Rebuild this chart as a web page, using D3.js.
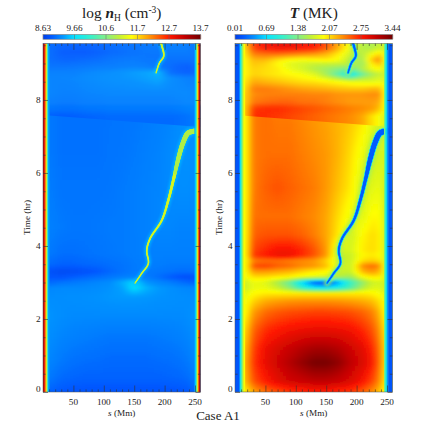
<!DOCTYPE html>
<html><head><meta charset="utf-8">
<script src="https://cdn.jsdelivr.net/npm/d3@7/dist/d3.min.js"></script>
<style>html,body{margin:0;padding:0;background:#fff}svg{display:block}text{font-family:"Liberation Serif",serif;fill:#222}</style>
</head><body><div id="c"></div>
<script>
// ---------- data ----------
const colourStops = [0,.05,.12,.2,.3,.4,.48,.56,.66,.8,.9,1];
const colourRamp = ["#0040e8","#0058ff","#0090ff","#00e4ff","#30f0c8","#80ee80","#c0f030","#ffff00","#ffa000","#ff1800","#c00000","#700000"];
const nTicks = ["8.63","9.66","10.6","11.7","12.7","13.7"];
const tTicks = ["0.01","0.69","1.38","2.07","2.75","3.44"];

const sColsT = [16,30,50,70,90,110,130,150,170,190,210,225,238,246];
const sColsN = [10,30,50,70,90,110,130,150,170,190,210,225,238,250];

const tRowsTLow = [0,.3,.8,1.2,1.7,2.2,2.5,2.7,2.85,3.0,3.15,3.3,3.45,3.6,3.75,3.9,4.3,4.8,5.6,6.5,7.7];
const tempLow = [
[1.95,2.25,2.45,2.55,2.65,2.7,2.75,2.75,2.7,2.65,2.5,2.35,2.15,1.9],
[2.15,2.55,2.75,2.9,3.0,3.05,3.1,3.1,3.05,2.95,2.8,2.6,2.35,2.0],
[2.2,2.65,2.88,3.02,3.15,3.28,3.4,3.4,3.3,3.1,2.95,2.78,2.45,2.05],
[2.15,2.6,2.85,2.96,3.05,3.14,3.2,3.2,3.14,3.02,2.9,2.72,2.42,2.05],
[2.05,2.48,2.68,2.76,2.82,2.86,2.88,2.88,2.86,2.82,2.7,2.56,2.32,2.0],
[1.9,2.28,2.45,2.52,2.56,2.58,2.6,2.6,2.58,2.55,2.48,2.38,2.18,1.9],
[1.85,2.08,2.22,2.27,2.3,2.32,2.32,2.32,2.3,2.27,2.22,2.16,2.03,1.85],
[1.8,1.94,2.0,2.0,2.0,2.0,2.0,2.0,2.0,2.0,2.0,1.97,1.9,1.8],
[1.7,1.85,1.85,1.7,1.45,1.05,.8,.75,.9,1.2,1.6,1.78,1.8,1.7],
[1.7,1.85,1.8,1.55,1.25,.65,.2,.1,.45,1.05,1.45,1.7,1.75,1.7],
[1.85,2.05,2.05,2.0,1.95,1.85,1.8,1.75,1.6,1.5,1.9,2.0,2.0,1.75],
[1.85,2.3,2.3,2.25,2.2,2.1,2.0,1.95,1.7,1.7,2.2,2.3,2.2,1.75],
[1.85,2.55,2.6,2.5,2.45,2.35,2.3,2.15,1.75,1.7,2.35,2.45,2.35,1.75],
[1.85,2.4,2.45,2.45,2.4,2.35,2.3,2.1,1.7,1.7,2.05,2.1,2.05,1.7],
[1.9,2.65,2.75,2.85,2.85,2.7,2.55,2.3,1.7,1.7,1.95,2.0,1.95,1.7],
[1.9,2.6,2.7,2.8,2.8,2.7,2.55,2.3,1.75,1.75,2.0,2.05,2.0,1.7],
[1.9,2.5,2.55,2.55,2.55,2.5,2.4,2.25,2.0,1.7,1.95,2.05,2.0,1.7],
[1.9,2.45,2.45,2.45,2.45,2.4,2.35,2.25,2.05,1.85,1.8,1.95,1.95,1.7],
[1.9,2.4,2.5,2.55,2.5,2.45,2.4,2.3,2.15,2.0,1.7,1.8,1.85,1.7],
[1.9,2.4,2.45,2.45,2.45,2.4,2.35,2.3,2.2,2.05,1.85,1.65,1.75,1.75],
[1.9,2.4,2.45,2.4,2.4,2.35,2.3,2.25,2.2,2.15,2.05,1.9,1.75,1.7]];

const tRowsTUp = [7.2,7.55,7.75,7.95,8.15,8.3,8.5,8.7,8.85,9.0,9.1,9.25,9.4,9.55];
const tempUp = [
[2.1,2.7,2.7,2.65,2.6,2.55,2.5,2.45,2.4,2.35,2.25,2.05,1.9,1.75],
[2.1,2.7,2.7,2.65,2.6,2.55,2.5,2.45,2.4,2.35,2.25,2.05,1.9,1.75],
[2.1,2.65,2.7,2.7,2.65,2.6,2.55,2.5,2.45,2.4,2.35,2.3,2.15,1.85],
[2.1,2.42,2.47,2.5,2.5,2.45,2.45,2.4,2.35,2.3,2.3,2.3,2.25,1.9],
[2.1,2.36,2.4,2.4,2.4,2.4,2.38,2.38,2.33,2.32,2.32,2.35,2.35,1.9],
[2.05,2.42,2.42,2.38,2.33,2.28,2.25,2.22,2.18,2.15,2.15,2.2,2.2,1.9],
[2.0,2.25,2.2,2.15,2.1,2.05,2.03,1.98,1.92,1.85,1.82,1.8,1.85,1.8],
[1.95,2.1,2.05,2.0,1.95,1.9,1.8,1.55,1.2,.75,1.3,1.55,1.7,1.7],
[1.95,2.1,2.05,2.0,1.85,1.75,1.6,1.5,1.4,1.3,1.6,1.85,1.95,1.7],
[1.95,2.15,2.1,1.95,1.8,1.75,1.7,1.7,1.7,1.65,1.5,2.0,2.2,1.75],
[1.95,2.2,2.2,2.05,1.95,1.9,1.95,2.0,1.9,1.6,1.55,2.15,2.4,1.8],
[2.0,2.4,2.45,2.45,2.4,2.35,2.3,2.2,2.0,1.7,1.6,1.9,2.1,1.8],
[2.05,2.6,2.75,2.8,2.8,2.75,2.7,2.5,2.2,1.8,1.6,1.6,1.75,1.7],
[2.1,2.65,2.85,2.9,2.9,2.85,2.8,2.6,2.25,1.85,1.6,1.55,1.65,1.7]];

const tRowsNLow = [0,.4,.9,1.5,2.1,2.6,2.85,3.0,3.15,3.3,3.5,3.8,4.5,5.5,6.5,7.7];
const densLow = [
[8.95,8.88,8.85,8.85,8.85,8.85,8.85,8.85,8.85,8.85,8.85,8.86,8.88,8.95],
[9.1,9.0,8.97,8.95,8.95,8.95,8.95,8.95,8.95,8.95,8.97,8.98,9.02,9.1],
[9.18,9.1,9.05,9.03,9.02,9.0,9.0,9.0,9.0,9.02,9.03,9.06,9.1,9.18],
[9.22,9.17,9.14,9.12,9.1,9.08,9.08,9.08,9.08,9.1,9.12,9.14,9.17,9.22],
[9.26,9.22,9.2,9.2,9.2,9.2,9.2,9.2,9.2,9.2,9.2,9.2,9.22,9.26],
[9.22,9.22,9.23,9.24,9.25,9.27,9.28,9.28,9.27,9.25,9.24,9.23,9.22,9.22],
[9.18,9.2,9.2,9.2,9.22,9.25,9.32,9.62,9.4,9.28,9.24,9.2,9.18,9.18],
[9.0,9.06,9.1,9.14,9.18,9.22,9.38,9.6,9.26,9.18,9.12,9.05,9.0,8.95],
[8.88,8.85,8.92,8.98,9.03,9.08,9.12,9.15,9.12,9.02,8.9,8.84,8.8,8.82],
[8.82,8.76,8.78,8.82,8.88,8.98,9.05,9.1,9.1,9.08,9.05,9.02,9.02,9.05],
[9.0,8.95,8.95,8.98,9.0,9.03,9.06,9.1,9.12,9.12,9.1,9.1,9.1,9.1],
[9.1,9.03,9.03,9.05,9.07,9.09,9.1,9.12,9.14,9.14,9.14,9.14,9.14,9.14],
[9.14,9.1,9.08,9.08,9.09,9.1,9.1,9.12,9.15,9.18,9.18,9.16,9.16,9.16],
[9.12,9.07,9.07,9.07,9.07,9.08,9.1,9.12,9.15,9.17,9.2,9.22,9.22,9.2],
[9.1,9.05,9.05,9.05,9.05,9.07,9.08,9.1,9.13,9.16,9.2,9.24,9.25,9.22],
[9.1,9.05,9.05,9.05,9.05,9.06,9.07,9.08,9.1,9.13,9.16,9.2,9.24,9.24]];

const tRowsNUp = [7.2,7.55,7.75,8.2,8.6,8.75,8.9,9.1,9.3,9.55];
const densUp = [
[8.92,8.9,8.92,8.95,8.97,9.0,9.0,9.0,9.0,9.0,9.0,9.02,9.05,9.1],
[8.92,8.9,8.92,8.95,8.97,9.0,9.0,9.0,9.0,9.0,9.0,9.02,9.05,9.1],
[9.08,9.05,9.05,9.08,9.08,9.1,9.1,9.1,9.1,9.1,9.1,9.12,9.15,9.15],
[9.15,9.12,9.12,9.14,9.15,9.16,9.16,9.16,9.16,9.16,9.16,9.17,9.17,9.15],
[9.14,9.14,9.15,9.18,9.2,9.22,9.24,9.26,9.3,9.35,9.2,9.15,9.12,9.1],
[9.12,9.12,9.12,9.15,9.18,9.2,9.24,9.28,9.32,9.4,9.0,8.95,8.92,8.95],
[9.05,9.05,9.06,9.08,9.1,9.1,9.12,9.14,9.12,9.05,8.98,8.92,8.9,8.95],
[9.0,8.95,8.95,8.98,9.0,9.05,9.07,9.08,9.05,9.05,9.02,9.02,9.02,9.03],
[9.0,8.9,8.88,8.88,8.92,8.97,9.0,9.03,9.05,9.05,9.08,9.08,9.08,9.05],
[9.0,8.95,8.95,8.95,8.97,9.0,9.03,9.05,9.08,9.1,9.12,9.12,9.1,9.05]];

// strips along the two footpoints, [start of strip in Mm]
const wallSLeftT = [0,6.5,7.5,8.5,9.5,10.5,11.5,12.5,13.5,14.5];
const wallVLeftT = [.15,.3,.5,.72,.95,1.2,1.4,1.6,1.75,1.9];
const wallSRightT = [245,246,247,248,249,250,251,252,253];
const wallVRightT = [1.45,1.2,1.0,.8,.62,.48,.36,.25,.15];
const wallSLeftN = [0,1.4,2.4,3.4,4.4,5.4,6.4,7.4,8.4];
const wallVLeftN = [13.3,12.9,12.6,12.25,11.75,11.4,10.6,9.8,9.35];
const wallSRightN = [249,250.5,252,253,254,255,256,257,258];
const wallVRightN = [9.35,9.7,10.4,11.2,11.6,12.1,12.7,13.2,13.6];

// the sharp front crossing the loop at about 7.5 hr
const frontS = [0,259];
const frontT = [7.59,7.26];

// the condensation tracks
const trackS = [151.3,162.3,173.2,170.6,176,195.2,206,214.3,222.5,230.8,239,253.8];
const trackT = [2.98,3.25,3.52,3.88,4.2,4.7,5.25,5.8,6.39,6.85,7.1,7.15];
const track2S = [185.9,191.3,198.5,195.7,194];
const track2T = [8.74,9.01,9.2,9.47,9.56];
const widthT = [2.9,4.7,5.8,6.4,7.2,8.7,9.6];
const widthPx = [1.2,1.9,2.8,4.2,5,1.2,1.8];

const sTickMajor = [50,100,150,200,250];
const sTickMinor = d3.range(10,260,10).filter(d=>d%50);
const tTickMajor = [0,2,4,6,8];
const tTickMinor = d3.range(0.5,9.6,0.5).filter(d=>d%2);

// ---------- drawing ----------
const svg = d3.select("#c").append("svg").attr("width",436).attr("height",436);
const defs = svg.append("defs");
const blur = (id,sx,sy)=>defs.append("filter").attr("id",id)
  .attr("filterUnits","userSpaceOnUse").attr("x",0).attr("y",0).attr("width",436).attr("height",436)
  .append("feGaussianBlur").attr("stdDeviation",`${sx} ${sy}`);
blur("soft",2.4,.9); blur("h1",1.4,1.4); blur("h2",.6,.6); blur("edge",.35,0);

const ramp = d3.scaleLinear().domain(colourStops).range(colourRamp).interpolate(d3.interpolateRgb);

function panel(o){
  const x = d3.scaleLinear().domain([0,259]).range([o.x0,o.x0+157.5]);
  const y = d3.scaleLinear().domain([0,9.55]).range([392,43.4]);
  const frac = d3.scaleLinear().domain([o.vmin,o.vmax]).range([0,1]).clamp(true);
  const col = v => ramp(frac(v));
  const g = svg.append("g");
  const cid = "clip"+o.key;
  defs.append("clipPath").attr("id",cid).append("rect")
    .attr("x",x(0)).attr("y",y(9.55)).attr("width",x(259)-x(0)).attr("height",y(0)-y(9.55));
  const upId = "up"+o.key;
  const frontLine = d3.line().x((d,i)=>x(frontS[i])).y((d,i)=>y(frontT[i]));
  defs.append("clipPath").attr("id",upId).append("path")
    .attr("d",frontLine(frontS)+`L${x(259)},0L${x(0)},0Z`);

  const body = g.append("g").attr("clip-path",`url(#${cid})`);
  const colIdx = d3.scaleLinear().domain(o.cols).range(o.cols.map((d,i)=>i)).clamp(true);
  function shade(parent,rows,mat,t0,t1){
    const rowIdx = d3.scaleLinear().domain(rows).range(rows.map((d,i)=>i)).clamp(true);
    const at = (s,t)=>{
      const cf=colIdx(s), rf=rowIdx(t);
      const c=Math.min(Math.floor(cf),o.cols.length-2), r=Math.min(Math.floor(rf),rows.length-2);
      const u=cf-c, v=rf-r;
      return (mat[r][c]*(1-u)+mat[r][c+1]*u)*(1-v)+(mat[r+1][c]*(1-u)+mat[r+1][c+1]*u)*v;
    };
    const dx=3, dy=2, cells=[];
    for(let px=x(0)-9;px<x(259)+9;px+=dx)
      for(let py=y(t1)-6;py<y(t0)+6;py+=dy) cells.push([px,py]);
    parent.append("g").attr("filter","url(#soft)")
      .selectAll("rect").data(cells).join("rect")
      .attr("x",d=>d[0]).attr("y",d=>d[1]).attr("width",dx+.4).attr("height",dy+.4)
      .attr("fill",d=>col(at(x.invert(d[0]+dx/2),y.invert(d[1]+dy/2))));
  }
  shade(body,o.rowsLow,o.low,0,7.7);
  shade(body.append("g").attr("clip-path",`url(#${upId})`),o.rowsUp,o.up,7.2,9.55);

  // tracks
  const line = d3.line().curve(d3.curveCatmullRom.alpha(.5));
  const width = d3.scaleLinear().domain(widthT).range(widthPx).clamp(true);
  function track(ss,ts){
    const pts = ss.map((s,i)=>[x(s),y(ts[i])]);
    const probe = body.append("path").attr("d",line(pts)).attr("fill","none");
    const L = probe.node().getTotalLength();
    const samples = d3.range(0,L+.75,.75).map(l=>probe.node().getPointAtLength(Math.min(l,L)));
    probe.remove();
    const segs = d3.pairs(samples);
    const draw = (parent,stroke,extra,op)=>parent.selectAll("line").data(segs).join("line")
      .attr("x1",d=>d[0].x).attr("y1",d=>d[0].y).attr("x2",d=>d[1].x).attr("y2",d=>d[1].y)
      .attr("stroke-linecap","round").attr("stroke",stroke).attr("stroke-opacity",op)
      .attr("stroke-width",d=>width(y.invert(d[0].y))+extra);
    o.halos.forEach(h=>{
      const hg = body.append("g").attr("filter",`url(#${h.f})`).attr("opacity",h.a);
      draw(hg,h.c,h.w,1);
    });
    draw(body.append("g"),d=>col(o.trackValue(y.invert(d[0].y))),0,1);
  }
  track(trackS,trackT);
  track(track2S,track2T);

  // footpoint strips
  const wl = body.append("g").attr("filter","url(#edge)");
  wl.selectAll(".l").data(o.wallSL).join("rect").attr("class","l")
    .attr("x",d=>x(d)).attr("y",y(9.55)).attr("height",y(0)-y(9.55))
    .attr("width",(d,i)=>x(i<o.wallSL.length-1?o.wallSL[i+1]:d+1.5)-x(d)+.4)
    .attr("fill",(d,i)=>col(o.wallVL[i]));
  wl.selectAll(".r").data(o.wallSR).join("rect").attr("class","r")
    .attr("x",d=>x(d)).attr("y",y(9.55)).attr("height",y(0)-y(9.55))
    .attr("width",(d,i)=>x(i<o.wallSR.length-1?o.wallSR[i+1]:259)-x(d)+.4)
    .attr("fill",(d,i)=>col(o.wallVR[i]));

  // axes
  const tcol="#333";
  function style(a){a.select(".domain").remove();a.selectAll("line").attr("stroke",tcol).attr("stroke-width",.6);a.selectAll("text").remove();}
  const H=y(0), T=y(9.55), L=x(0), R=x(259);
  g.append("g").attr("transform",`translate(0,${H})`).call(d3.axisBottom(x).tickValues(sTickMinor).tickSize(-2.6)).call(style);
  g.append("g").attr("transform",`translate(0,${H})`).call(d3.axisBottom(x).tickValues(sTickMajor).tickSize(-6.5)).call(style);
  g.append("g").attr("transform",`translate(0,${T})`).call(d3.axisTop(x).tickValues(sTickMinor).tickSize(-2.6)).call(style);
  g.append("g").attr("transform",`translate(0,${T})`).call(d3.axisTop(x).tickValues(sTickMajor).tickSize(-6.5)).call(style);
  g.append("g").attr("transform",`translate(${L},0)`).call(d3.axisLeft(y).tickValues(tTickMinor).tickSize(-2.6)).call(style);
  g.append("g").attr("transform",`translate(${L},0)`).call(d3.axisLeft(y).tickValues(tTickMajor).tickSize(-5)).call(style);
  g.append("g").attr("transform",`translate(${R},0)`).call(d3.axisRight(y).tickValues(tTickMinor).tickSize(-2.6)).call(style);
  g.append("g").attr("transform",`translate(${R},0)`).call(d3.axisRight(y).tickValues(tTickMajor).tickSize(-5)).call(style);
  g.append("rect").attr("x",L).attr("y",T).attr("width",R-L).attr("height",H-T)
    .attr("fill","none").attr("stroke","#555").attr("stroke-width",.5);

  g.append("g").selectAll("text").data(sTickMajor).join("text").attr("x",d=>x(d)).attr("y",404.5)
    .attr("text-anchor","middle").attr("font-size",9.2).text(d=>d);
  g.append("g").selectAll("text").data(tTickMajor).join("text")
    .attr("x",L-2.5).attr("y",d=>d===0?392:y(d)+3).attr("text-anchor","end").attr("font-size",9.2).text(d=>d);

  g.append("text").attr("transform",`translate(${L-13.5},217.5) rotate(-90)`).attr("text-anchor","middle")
    .attr("font-size",9.2).text("Time (hr)");
  const sl=g.append("text").attr("x",(L+R)/2).attr("y",416).attr("text-anchor","middle").attr("font-size",9.2);
  sl.append("tspan").attr("font-style","italic").text("s");
  sl.append("tspan").text(" (Mm)");

  // colour bar
  const bx = d3.scaleLinear().domain([0,1]).range([L,R]);
  const barCells = d3.range(0,1,1/157);
  g.append("g").selectAll("rect").data(barCells).join("rect").attr("x",d=>bx(d)).attr("y",34.6)
    .attr("width",1.6).attr("height",4.6).attr("fill",d=>ramp(d));
  g.append("rect").attr("x",L).attr("y",34.4).attr("width",R-L).attr("height",4.9)
    .attr("fill","none").attr("stroke","#888").attr("stroke-width",.7);
  const bt = o.ticks.map((d,i)=>i/(o.ticks.length-1));
  g.append("g").selectAll("line").data(bt.slice(1,-1)).join("line").attr("x1",d=>bx(d)).attr("x2",d=>bx(d))
    .attr("y1",34.6).attr("y2",39.2).attr("stroke","#666").attr("stroke-width",.5);
  g.append("g").selectAll("text").data(o.ticks).join("text").attr("x",(d,i)=>bx(bt[i])).attr("y",31)
    .attr("text-anchor","middle").attr("font-size",9.2).text(d=>d);
  o.title(g.append("text").attr("x",(L+R)/2+o.titleDx).attr("y",18).attr("text-anchor","middle").attr("font-size",15.3));
}

panel({key:"n",x0:43,vmin:8.63,vmax:13.7,ticks:nTicks,cols:sColsN,rowsLow:tRowsNLow,low:densLow,rowsUp:tRowsNUp,up:densUp,
  wallSL:wallSLeftN,wallVL:wallVLeftN,wallSR:wallSRightN,wallVR:wallVRightN,
  trackValue:t=>(t>6&&t<8)?10.95:11.2,titleDx:0,
  halos:[{c:"#00c0ff",w:2.5,a:.8,f:"h1"}],
  title:s=>{
    s.append("tspan").text("log ");
    s.append("tspan").attr("font-style","italic").attr("font-weight","bold").text("n");
    s.append("tspan").attr("font-size",9.5).attr("dy",3).text("H");
    s.append("tspan").attr("dy",-3).text(" (cm");
    s.append("tspan").attr("font-size",9.5).attr("dy",-5).text("-3");
    s.append("tspan").attr("dy",5).text(")");
  }});
panel({key:"t",x0:235,vmin:.01,vmax:3.44,ticks:tTicks,cols:sColsT,rowsLow:tRowsTLow,low:tempLow,rowsUp:tRowsTUp,up:tempUp,
  wallSL:wallSLeftT,wallVL:wallVLeftT,wallSR:wallSRightT,wallVR:wallVRightT,
  trackValue:t=>.2,titleDx:0,
  halos:[{c:"#a0f060",w:5,a:.7,f:"h1"},{c:"#00d8ff",w:1.4,a:.9,f:"h2"}],
  title:s=>{
    s.append("tspan").attr("font-style","italic").attr("font-weight","bold").text("T");
    s.append("tspan").text(" (MK)");
  }});

svg.append("text").attr("x",218).attr("y",420).attr("text-anchor","middle").attr("font-size",13).text("Case A1");
</script></body></html>
